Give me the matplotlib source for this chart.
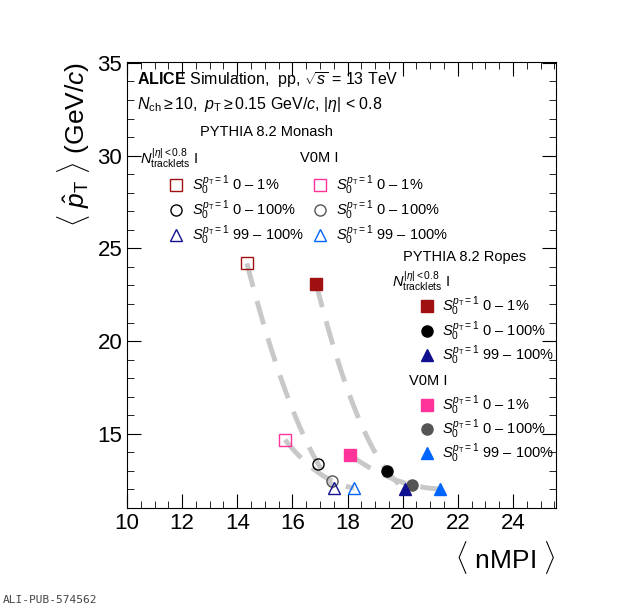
import numpy as np
import matplotlib
matplotlib.use("Agg")
import matplotlib.pyplot as plt
plt.rcParams["font.family"] = ["Liberation Sans", "DejaVu Sans"]
plt.rcParams["mathtext.fontset"] = "custom"
plt.rcParams["mathtext.rm"] = "Liberation Sans"
plt.rcParams["mathtext.it"] = "Liberation Sans:italic"
plt.rcParams["mathtext.bf"] = "Liberation Sans:bold"

classes = ["0 – 1%", "0 – 100%", "99 – 100%"]
monash_ntrk_x = [14.35, 16.93, 17.51]; monash_ntrk_y = [24.19, 13.38, 12.08]
monash_v0m_x = [15.73, 17.44, 18.23];  monash_v0m_y = [14.68, 12.46, 12.08]
ropes_ntrk_x = [16.86, 19.43, 20.08];  ropes_ntrk_y = [23.10, 13.00, 12.03]
ropes_v0m_x = [18.09, 20.34, 21.35];   ropes_v0m_y = [13.86, 12.24, 12.03]

fig = plt.figure(figsize=(6.2, 6.09), dpi=100)
ax = fig.add_axes([127/620, 1-508/609, (556-127)/620, (508-62)/609])
ax.set_xlim(10, 25.56); ax.set_ylim(11, 35.05)

def curve(xs, ys):
    c = np.polyfit(xs, ys, 2)
    xx = np.linspace(xs[0], xs[-1], 100)
    ax.plot(xx, np.polyval(c, xx), ls=(0, (5, 3)), color="#c8c8c8", lw=3.5, zorder=1)

for xs, ys in [(monash_ntrk_x, monash_ntrk_y), (monash_v0m_x, monash_v0m_y),
               (ropes_ntrk_x, ropes_ntrk_y), (ropes_v0m_x, ropes_v0m_y)]:
    curve(xs, ys)

mk = ["s", "o", "^"]
c_ntrk = ["#a01010", "black", "#101090"]
c_v0m = ["#ff3399", "#555555", "#0066ff"]
for i in range(3):
    ax.plot(monash_ntrk_x[i], monash_ntrk_y[i], mk[i], mfc="none", mec=c_ntrk[i], ms=8, zorder=3)
    ax.plot(monash_v0m_x[i], monash_v0m_y[i], mk[i], mfc="none", mec=c_v0m[i], ms=8, zorder=3)
    ax.plot(ropes_ntrk_x[i], ropes_ntrk_y[i], mk[i], color=c_ntrk[i], ms=8, zorder=3)
    ax.plot(ropes_v0m_x[i], ropes_v0m_y[i], mk[i], color=c_v0m[i], ms=8, zorder=3)

ax.set_xticks(np.arange(10, 25, 2))
ax.set_xticks(np.arange(10, 25.6, 0.5), minor=True)
ax.set_yticks(np.arange(15, 36, 5))
ax.set_yticks(np.arange(11, 35.1, 1), minor=True)
ax.tick_params(which="both", direction="in", top=True, right=True, labelsize=16)
ax.tick_params(which="major", length=10)
ax.tick_params(which="minor", length=5)
ax.set_xlabel(r"$\langle$ nMPI $\rangle$", fontsize=19, loc="right")
ax.set_ylabel(r"$\langle\ \hat{p}_{\rm T}\ \rangle$ (GeV/$c$)", fontsize=19, loc="top")

T = ax.transAxes
def fx(px): return (px-127)/429
def fy(py): return (508-py)/446
fs = 10.5
ax.text(fx(137), fy(80), r"$\bf{ALICE}$ Simulation,  pp, $\sqrt{s}$ = 13 TeV", transform=T, fontsize=11.5, va="center")
ax.text(fx(137), fy(104), r"$N_{\rm ch}\geq 10,\ p_{\rm T}\geq 0.15$ GeV/$c$, $|\eta|$ < 0.8", transform=T, fontsize=11.5, va="center")
ax.text(fx(200), fy(132), "PYTHIA 8.2 Monash", transform=T, fontsize=fs, va="center")
ax.text(fx(140), fy(158), r"$N_{\rm tracklets}^{|\eta|<0.8}$ I", transform=T, fontsize=fs, va="center")
ax.text(fx(300), fy(158), "V0M I", transform=T, fontsize=fs, va="center")
S = r"$S_0^{p_{\rm T}=1}$ "
for i, yy in enumerate([185, 210, 235]):
    ax.plot(fx(176), fy(yy), mk[i], mfc="none", mec=c_ntrk[i], ms=8, transform=T, clip_on=False)
    ax.text(fx(192), fy(yy), S + classes[i], transform=T, fontsize=fs, va="center")
    ax.plot(fx(320), fy(yy), mk[i], mfc="none", mec=c_v0m[i], ms=8, transform=T, clip_on=False)
    ax.text(fx(336), fy(yy), S + classes[i], transform=T, fontsize=fs, va="center")
ax.text(fx(403), fy(257), "PYTHIA 8.2 Ropes", transform=T, fontsize=fs, va="center")
ax.text(fx(392), fy(281), r"$N_{\rm tracklets}^{|\eta|<0.8}$ I", transform=T, fontsize=fs, va="center")
for i, yy in enumerate([306, 331, 355]):
    ax.plot(fx(427), fy(yy), mk[i], color=c_ntrk[i], ms=8, transform=T, clip_on=False)
    ax.text(fx(442), fy(yy), S + classes[i], transform=T, fontsize=fs, va="center")
ax.text(fx(409), fy(381), "V0M I", transform=T, fontsize=fs, va="center")
for i, yy in enumerate([405, 429, 453]):
    ax.plot(fx(427), fy(yy), mk[i], color=c_v0m[i], ms=8, transform=T, clip_on=False)
    ax.text(fx(442), fy(yy), S + classes[i], transform=T, fontsize=fs, va="center")

fig.text(0.005, 0.01, "ALI-PUB-574562", family="DejaVu Sans Mono", fontsize=8, color="#444444")
fig.savefig("out.png", dpi=100)
